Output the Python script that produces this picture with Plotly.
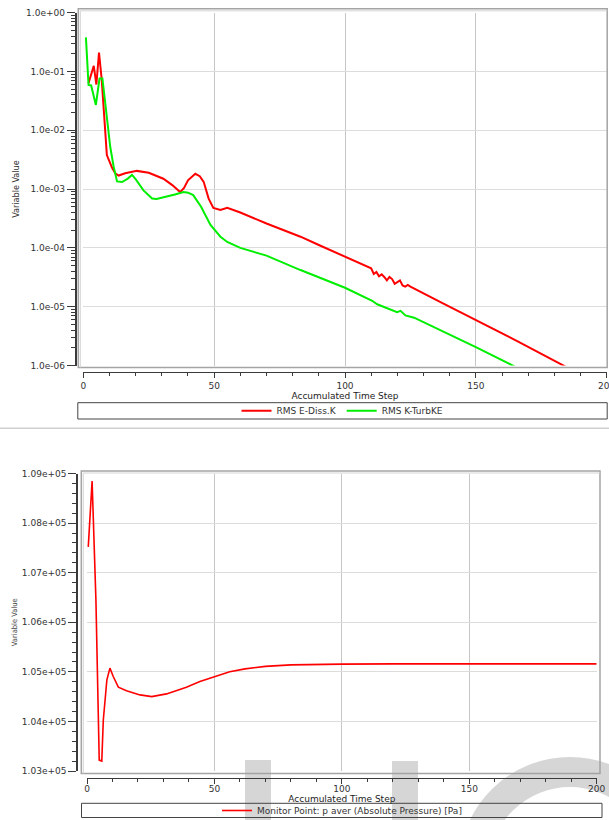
import plotly.graph_objects as go

W, H = 609, 820

# ---- residual history (RMS) ----
steps_ediss = [2, 4, 5, 6, 7, 8.4, 9, 10.3, 11, 12.2, 13.5, 16, 20.5, 25, 30.6, 34, 37, 38.5, 40,
               42.8, 44.5, 46, 47.9, 49.7, 52.4, 55, 60, 70, 83, 90, 100, 105, 110, 111, 112,
               113, 114, 115, 116, 117, 118, 119, 120, 121, 122, 123, 124, 125, 136.5, 150,
               165.8, 185.6]
rms_ediss = [6.3e-2, 1.25e-1, 6.0e-2, 2.1e-1, 7.6e-2, 1.15e-2, 3.8e-3, 2.75e-3, 2.3e-3, 1.86e-3,
             1.7e-3, 1.86e-3, 2.04e-3, 1.9e-3, 1.5e-3, 1.17e-3, 8.9e-4, 1.05e-3, 1.41e-3,
             1.82e-3, 1.66e-3, 1.33e-3, 6.9e-4, 4.8e-4, 4.4e-4, 4.8e-4, 4.0e-4, 2.6e-4, 1.55e-4,
             1.12e-4, 7.1e-5, 5.75e-5, 4.5e-5, 3.6e-5, 3.9e-5, 3.3e-5, 3.55e-5, 3.2e-5, 2.8e-5,
             3.2e-5, 2.95e-5, 2.45e-5, 2.6e-5, 2.8e-5, 2.3e-5, 2.2e-5, 2.35e-5, 2.2e-5, 1.2e-5,
             6.0e-6, 2.6e-6, 8.9e-7]

steps_turbke = [1, 2, 3, 4.8, 6.2, 7.3, 8, 9.1, 10.3, 11.6, 12.9, 14.8, 17, 18.6, 20, 23, 26.3,
                28, 32, 35, 38.3, 40, 42, 45, 48.6, 52.4, 55, 60, 70, 83, 100, 110.4, 112.3,
                116.1, 119.9, 121.2, 123.1, 126.4, 150, 166.3]
rms_turbke = [3.8e-1, 5.9e-2, 5.8e-2, 2.7e-2, 7.6e-2, 7.6e-2, 4.1e-2, 1.62e-2, 5.2e-3, 2.4e-3,
              1.35e-3, 1.32e-3, 1.51e-3, 1.74e-3, 1.48e-3, 9.5e-4, 6.9e-4, 6.8e-4, 7.4e-4,
              8.1e-4, 8.9e-4, 8.7e-4, 7.9e-4, 5.0e-4, 2.45e-4, 1.55e-4, 1.26e-4, 1.0e-4, 7.4e-5,
              4.2e-5, 2.1e-5, 1.26e-5, 1.1e-5, 9.5e-6, 8.1e-6, 8.5e-6, 7.1e-6, 6.5e-6, 2.05e-6,
              8.9e-7]

# ---- monitor point: area-averaged absolute pressure [Pa] ----
steps_p = [0.5, 2, 3.5, 4.8, 5.8, 6.4, 7.8, 9, 10.3, 12.3, 15.5, 20.8, 25.4, 31.2, 39, 44.3,
           50, 56, 62, 70, 80, 90, 100, 120, 150, 200]
p_aver = [107520, 108850, 106455, 103220, 103200, 104030, 104840, 105075, 104905, 104690,
          104620, 104535, 104500, 104555, 104690, 104805, 104900, 105000, 105060, 105110,
          105140, 105150, 105155, 105160, 105160, 105160]

log_tickvals = [1e-6, 1e-5, 1e-4, 1e-3, 1e-2, 1e-1, 1e0]
log_ticktext = ["1.0e-06", "1.0e-05", "1.0e-04", "1.0e-03", "1.0e-02", "1.0e-01", "1.0e+00"]
p_tickvals = [103000, 104000, 105000, 106000, 107000, 108000, 109000]
p_ticktext = ["1.03e+05", "1.04e+05", "1.05e+05", "1.06e+05", "1.07e+05", "1.08e+05", "1.09e+05"]
step_ticks = [0, 50, 100, 150, 200]


def px(x):
    return x / W


def py(y):
    return 1 - y / H


TICK_FONT = dict(family="DejaVu Sans", size=9, color="#333333")
TITLE_FONT = dict(family="DejaVu Sans", size=9, color="#222222")
NARROW = "Liberation Sans Narrow, DejaVu Sans Condensed, sans-serif"
AXIS_DARK = "#3a3a3a"

fig = go.Figure()

fig.add_trace(go.Scatter(x=steps_ediss, y=rms_ediss, mode="lines", name="RMS E-Diss.K",
                         line=dict(color="#ff0000", width=2), xaxis="x", yaxis="y",
                         legend="legend"))
fig.add_trace(go.Scatter(x=steps_turbke, y=rms_turbke, mode="lines", name="RMS K-TurbKE",
                         line=dict(color="#00ee00", width=2), xaxis="x", yaxis="y",
                         legend="legend"))
fig.add_trace(go.Scatter(x=steps_p, y=p_aver, mode="lines",
                         name="Monitor Point: p aver (Absolute Pressure) [Pa]",
                         line=dict(color="#ff0000", width=1.6), xaxis="x2", yaxis="y2",
                         legend="legend2"))

x_common = dict(
    range=[0, 200], tickmode="array", tickvals=step_ticks, ticks="outside", ticklen=5,
    tickcolor=AXIS_DARK, showline=True, linecolor=AXIS_DARK, linewidth=1,
    showgrid=True, gridcolor="#c6c6c6", gridwidth=1, zeroline=False,
    tickfont=TICK_FONT, anchor="free", automargin=False, ticklabeloverflow="allow",
    minor=dict(dtick=10, ticks="outside", ticklen=3, tickcolor=AXIS_DARK, showgrid=False),
)

fig.update_layout(
    width=W, height=H,
    margin=dict(l=0, r=0, t=0, b=0, pad=0, autoexpand=False),
    paper_bgcolor="white", plot_bgcolor="rgba(0,0,0,0)",
    xaxis=dict(x_common, domain=[px(83.3), px(606.7)], position=py(372),
               title=dict(text="Accumulated Time Step", font=TITLE_FONT, standoff=2)),
    yaxis=dict(
        type="log", range=[-6, 0], domain=[py(365.5), py(12.7)], anchor="free",
        position=px(75.5), tickmode="array", tickvals=log_tickvals, ticktext=log_ticktext,
        ticks="outside", ticklen=8, tickcolor=AXIS_DARK, showline=True, linecolor=AXIS_DARK,
        linewidth=1.5, showgrid=True, gridcolor="#dcdcdc", zeroline=False, tickfont=TICK_FONT,
        automargin=False, ticklabeloverflow="allow",
        minor=dict(dtick="D1", ticks="outside", ticklen=4, tickcolor=AXIS_DARK, showgrid=False),
        title=dict(text="Variable Value", font=dict(family=NARROW, size=9, color="#333333"),
                   standoff=4),
    ),
    xaxis2=dict(x_common, domain=[px(87), px(596.7)], position=py(778), ticklabelstandoff=-3,
                title=dict(text="Accumulated Time Step", font=TITLE_FONT, standoff=0)),
    yaxis2=dict(
        range=[103000, 109000], domain=[py(771), py(473.5)], anchor="free", position=px(77),
        tickmode="array", tickvals=p_tickvals, ticktext=p_ticktext, ticks="outside",
        ticklen=8, tickcolor=AXIS_DARK, showline=True, linecolor=AXIS_DARK, linewidth=1.5,
        showgrid=True, gridcolor="#dcdcdc", zeroline=False, tickfont=TICK_FONT,
        automargin=False, ticklabeloverflow="allow",
        minor=dict(dtick=200, ticks="outside", ticklen=4, tickcolor=AXIS_DARK, showgrid=False),
        title=dict(text="Variable Value", font=dict(family=NARROW, size=7.5, color="#444444"),
                   standoff=2),
    ),
    legend=dict(orientation="h", x=px(342.5), y=py(410.8), xanchor="center",
                yanchor="middle", bgcolor="rgba(0,0,0,0)", font=TICK_FONT,
                itemwidth=30, tracegroupgap=0),
    legend2=dict(orientation="h", x=px(342), y=py(810.5), xanchor="center",
                 yanchor="middle", bgcolor="rgba(0,0,0,0)", font=TICK_FONT,
                 itemwidth=30),
    showlegend=True,
)

shapes = []

# faint background lettering along the bottom edge
WM = "#d6d6d6"
shapes.append(dict(type="rect", xref="paper", yref="paper", layer="below",
                   x0=px(245), x1=px(271), y0=py(830), y1=py(760),
                   fillcolor=WM, line=dict(width=0)))
shapes.append(dict(type="rect", xref="paper", yref="paper", layer="below",
                   x0=px(392), x1=px(418), y0=py(830), y1=py(761),
                   fillcolor=WM, line=dict(width=0)))
cx, cy, rm = 570, 868, 96
shapes.append(dict(type="circle", xref="paper", yref="paper", layer="below",
                   x0=px(cx - rm), x1=px(cx + rm), y0=py(cy + rm), y1=py(cy - rm),
                   line=dict(color=WM, width=30)))


def frame(x0, y0, x1, y1):
    # raised double border around a chart area
    out = [dict(type="rect", xref="paper", yref="paper", layer="above",
                x0=px(x0), x1=px(x1), y0=py(y1), y1=py(y0),
                line=dict(color="#a4a4a4", width=1.5)),
           dict(type="line", xref="paper", yref="paper", layer="above",
                x0=px(x0 + 2), x1=px(x0 + 2), y0=py(y1), y1=py(y0 + 2),
                line=dict(color="#d4d4d4", width=1)),
           dict(type="line", xref="paper", yref="paper", layer="above",
                x0=px(x0 + 2), x1=px(x1), y0=py(y0 + 2), y1=py(y0 + 2),
                line=dict(color="#d4d4d4", width=1))]
    return out


shapes += frame(78.3, 8.8, 607.2, 367.5)
shapes += frame(81.3, 471, 600, 773.5)

# legend boxes
shapes.append(dict(type="rect", xref="paper", yref="paper",
                   x0=px(77.8), x1=px(607.2), y0=py(419), y1=py(402.7),
                   line=dict(color="#444444", width=1)))
shapes.append(dict(type="rect", xref="paper", yref="paper",
                   x0=px(81.5), x1=px(602), y0=py(817.5), y1=py(803.3),
                   line=dict(color="#444444", width=1)))

# divider between the two charts
shapes.append(dict(type="line", xref="paper", yref="paper",
                   x0=0, x1=1, y0=py(428.3), y1=py(428.3),
                   line=dict(color="#d0d0d0", width=1.5)))

fig.update_layout(shapes=shapes)

fig.write_html("out.html")
